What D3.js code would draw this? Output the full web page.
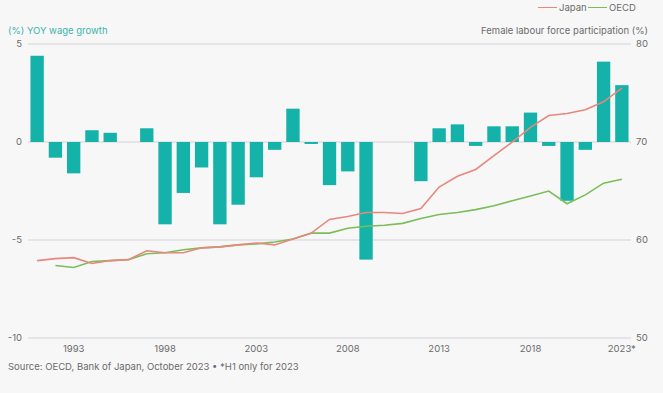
<!DOCTYPE html>
<html>
<head>
<meta charset="utf-8">
<script src="https://cdn.jsdelivr.net/npm/d3@7"></script>
<style>
  html, body { margin: 0; padding: 0; background: #f7f7f8; }
  svg { display: block; font-family: "Inter", "Roboto", sans-serif; }
</style>
</head>
<body>
<div id="chart"></div>
<script>
// data
var years = d3.range(1991, 2024);
var wageGrowth = [4.4, -0.8, -1.6, 0.6, 0.47, 0, 0.7, -4.2, -2.6, -1.3,
  -4.2, -3.2, -1.8, -0.4, 1.7, -0.1, -2.2, -1.5, -6.0, 0, 0,
  -2.0, 0.7, 0.9, -0.2, 0.8, 0.8, 1.5, -0.2, -3.0, -0.4, 4.1, 2.9];
var japanFlp = [57.9, 58.1, 58.2, 57.6, 57.9, 58.0, 58.9, 58.7, 58.7, 59.2,
  59.3, 59.5, 59.7, 59.5, 60.1, 60.7, 62.1, 62.4, 62.8, 62.8, 62.7,
  63.2, 65.4, 66.5, 67.2, 68.6, 70.0, 71.5, 72.7, 72.9, 73.3, 74.1, 75.5];
var oecdFlp = [null, 57.4, 57.2, 57.8, 57.9, 58.0, 58.6, 58.7, 59.0, 59.2,
  59.3, 59.5, 59.6, 59.8, 60.1, 60.7, 60.7, 61.2, 61.4, 61.5, 61.7,
  62.2, 62.6, 62.8, 63.1, 63.5, 64.0, 64.5, 65.0, 63.7, 64.6, 65.8, 66.2];
var leftTicks = [5, 0, -5, -10];
var rightTicks = [80, 70, 60, 50];
var yearLabels = [1993, 1998, 2003, 2008, 2013, 2018, 2023];

var w = 663, h = 393;
var plotLeft = 28, plotRight = 631, plotTop = 44, plotBottom = 338;

var svg = d3.select('#chart').append('svg')
  .attr('width', w)
  .attr('height', h);

var x = d3.scaleBand()
  .domain(years)
  .range([plotLeft, plotRight])
  .paddingInner(0.27)
  .paddingOuter(0.135);

var yL = d3.scaleLinear().domain([-10, 5]).range([plotBottom, plotTop]);
var yR = d3.scaleLinear().domain([50, 80]).range([plotBottom, plotTop]);

// grid
svg.append('g').selectAll('line')
  .data(leftTicks)
  .enter().append('line')
  .attr('x1', plotLeft).attr('x2', plotRight)
  .attr('y1', function(d) { return yL(d); })
  .attr('y2', function(d) { return yL(d); })
  .attr('stroke', '#d3d3d6')
  .attr('stroke-width', 1);

// left axis labels
svg.append('g').selectAll('text')
  .data(leftTicks)
  .enter().append('text')
  .attr('x', 22)
  .attr('y', function(d) { return yL(d); })
  .attr('dy', '0.35em')
  .attr('text-anchor', 'end')
  .attr('font-size', 9.5)
  .attr('fill', '#6b6b6b')
  .text(function(d) { return d; });

// right axis labels
svg.append('g').selectAll('text')
  .data(rightTicks)
  .enter().append('text')
  .attr('x', 636)
  .attr('y', function(d) { return yR(d); })
  .attr('dy', '0.35em')
  .attr('font-size', 9.5)
  .attr('fill', '#6b6b6b')
  .text(function(d) { return d; });

// bars
svg.append('g').selectAll('rect')
  .data(years.map(function(y, i) { return {year: y, v: wageGrowth[i]}; })
    .filter(function(d) { return d.v !== 0; }))
  .enter().append('rect')
  .attr('x', function(d) { return x(d.year); })
  .attr('width', x.bandwidth())
  .attr('y', function(d) { return yL(Math.max(0, d.v)); })
  .attr('height', function(d) { return Math.abs(yL(d.v) - yL(0)); })
  .attr('fill', '#14b2a8');

// lines
var line = d3.line()
  .defined(function(d) { return d.v != null; })
  .x(function(d) { return x(d.year) + x.bandwidth() / 2; })
  .y(function(d) { return yR(d.v); });

function series(vals) {
  return years.map(function(y, i) { return {year: y, v: vals[i]}; });
}

svg.append('path')
  .datum(series(oecdFlp))
  .attr('d', line)
  .attr('fill', 'none')
  .attr('stroke', '#7bbd58')
  .attr('stroke-width', 1.6);

svg.append('path')
  .datum(series(japanFlp))
  .attr('d', line)
  .attr('fill', 'none')
  .attr('stroke', '#e8877c')
  .attr('stroke-width', 1.6);

// x labels
svg.append('g').selectAll('text')
  .data(yearLabels)
  .enter().append('text')
  .attr('x', function(d) { return x(d) + x.bandwidth() / 2; })
  .attr('y', 352)
  .attr('text-anchor', 'middle')
  .attr('font-size', 9.5)
  .attr('fill', '#6b6b6b')
  .text(function(d) { return d === 2023 ? '2023*' : d; });

// axis titles
svg.append('text')
  .attr('x', 8).attr('y', 34)
  .attr('font-size', 9.5)
  .attr('fill', '#3db5ab')
  .text('(%) YOY wage growth');

svg.append('text')
  .attr('x', 648).attr('y', 34)
  .attr('text-anchor', 'end')
  .attr('font-size', 9.5)
  .attr('fill', '#6b6b6b')
  .text('Female labour force participation (%)');

// legend
var legend = [{name: 'Japan', color: '#e8877c', x: 538}, {name: 'OECD', color: '#7bbd58', x: 588}];
var lg = svg.append('g').selectAll('g')
  .data(legend)
  .enter().append('g');
lg.append('line')
  .attr('x1', function(d) { return d.x; })
  .attr('x2', function(d) { return d.x + 19; })
  .attr('y1', 7.5).attr('y2', 7.5)
  .attr('stroke', function(d) { return d.color; })
  .attr('stroke-width', 1);
lg.append('text')
  .attr('x', function(d) { return d.x + 21; })
  .attr('y', 11)
  .attr('font-size', 9.5)
  .attr('fill', '#6b6b6b')
  .text(function(d) { return d.name; });

// source
svg.append('text')
  .attr('x', 8).attr('y', 370)
  .attr('font-size', 9.5)
  .attr('fill', '#6b6b6b')
  .text('Source: OECD, Bank of Japan, October 2023 \u2022 *H1 only for 2023');
</script>
</body>
</html>
